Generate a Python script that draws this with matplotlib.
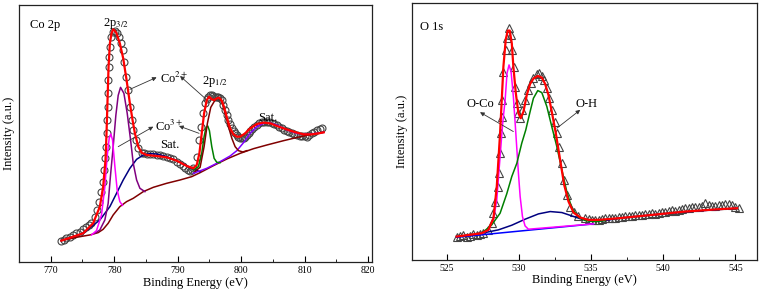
import matplotlib
matplotlib.use("Agg")
import matplotlib.pyplot as plt
from matplotlib.ticker import MultipleLocator, NullLocator

plt.rcParams['font.family'] = ['Liberation Serif', 'DejaVu Serif']
plt.rcParams['mathtext.fontset'] = 'stix'

# ---------------- Co 2p data ----------------
co_exp_E = [771.68, 772.10, 772.47, 773.00, 773.53, 774.05, 774.58, 775.10, 775.63, 776.05,
            776.42, 776.95, 777.32, 777.63, 777.89,
            778.16, 778.37, 778.53, 778.68, 778.79, 778.89, 778.95, 779.00, 779.05, 779.11,
            779.21, 779.32, 779.47, 779.74, 780.11, 780.47, 780.79, 781.05, 781.32, 781.53,
            781.84, 782.11, 782.47, 782.74, 783.00, 783.37, 783.79, 784.32, 784.70, 785.11,
            785.60, 786.16, 786.70, 787.21, 787.70, 788.26, 788.80, 789.32, 789.85, 790.37,
            790.80, 791.16, 791.60, 791.95, 792.20, 792.47, 793.00, 793.42, 793.68,
            793.95, 794.32, 794.60, 794.84, 795.10, 795.37, 795.63, 795.89, 796.15, 796.42,
            796.70, 796.95, 797.20, 797.47, 797.75, 798.00, 798.25, 798.53, 798.80,
            799.05, 799.30, 799.58, 799.85, 800.11, 800.40, 800.63, 800.90, 801.16, 801.40,
            801.68, 802.10, 802.47, 802.85, 803.26, 803.65, 804.05, 804.45, 804.84, 805.25,
            805.63, 806.00, 806.42, 806.80, 807.21, 807.60, 808.00, 808.40, 808.79, 809.20,
            809.58, 810.00, 810.37, 810.75, 811.16, 811.55, 811.95, 812.35, 812.74]
co_exp_I = [64, 67, 71, 76, 81, 86, 91, 98, 106, 112,
            118, 136, 156, 181, 211,
            241, 276, 311, 346, 386, 426, 466, 506, 546, 586,
            616, 646, 676, 689, 694, 688, 674, 656, 636, 601,
            556, 516, 466, 426, 396, 366, 341, 328, 326, 324,
            323, 323, 322, 321, 319, 316, 312, 308, 301, 294,
            287, 281, 276, 273, 275, 281, 316, 366, 406,
            446, 476, 488, 496, 500, 501, 499, 496, 495, 494,
            491, 486, 472, 456, 441, 426, 413, 401, 393,
            386, 380, 376, 372, 371, 372, 374, 380, 386, 392,
            398, 405, 411, 416, 420, 421, 421, 420, 418, 415,
            411, 406, 401, 397, 393, 389, 386, 383, 381, 379,
            378, 377, 376, 380, 386, 391, 396, 399, 401]

co_fit_E = [771.68, 775.11, 776.68, 777.74, 778.26, 778.63, 778.79, 778.95, 779.11, 779.32,
            779.58, 779.84, 780.11, 780.37, 780.89, 781.42, 781.95, 782.47, 782.89, 783.26,
            783.79, 784.32, 785.11, 786.68, 788.26, 789.84, 791.42, 792.47, 793.00, 793.42,
            793.79, 794.16, 794.58, 794.95, 795.37, 795.74, 796.16, 796.53, 796.95, 797.32,
            797.74, 798.26, 798.79, 799.32, 799.84, 800.63, 801.42, 802.47, 803.53, 804.58,
            805.63, 806.68, 807.74, 808.79, 809.84, 811.16, 812.21, 813.00]
co_fit_I = [64, 86, 116, 166, 226, 306, 386, 486, 586, 656,
            686, 698, 694, 686, 656, 611, 546, 476, 426, 386,
            346, 328, 321, 318, 314, 304, 288, 281, 291, 326,
            386, 446, 486, 496, 488, 486, 491, 493, 484, 464,
            434, 401, 383, 376, 376, 386, 401, 414, 418, 416,
            408, 401, 394, 388, 383, 383, 386, 389]

co_bg_E = [771.68, 774.05, 776.16, 777.47, 778.26, 779.05, 779.84, 780.89, 781.95, 783.00,
           784.58, 786.16, 788.26, 790.37, 792.21, 793.53, 795.63, 797.74, 799.84, 801.95,
           804.05, 806.68, 809.32, 811.95, 813.00]
co_bg_I = [64, 74, 81, 88, 98, 116, 141, 166, 181, 191,
           211, 224, 236, 246, 256, 268, 289, 309, 326, 340,
           351, 364, 376, 386, 389]

co_sat1_E = [771.68, 775.11, 777.74, 779.32, 780.37, 781.42, 782.47, 783.53, 784.58, 785.63,
             786.68, 788.26, 789.84, 791.42, 792.47, 793.53]
co_sat1_I = [64, 86, 126, 166, 206, 246, 281, 308, 321, 325,
             324, 316, 304, 289, 278, 271]

co2_32_E = [776.95, 777.74, 778.53, 779.05, 779.42, 779.84, 780.26, 780.63, 781.00, 781.53,
            782.05, 782.58, 783.00, 783.53, 784.05, 784.84]
co2_32_I = [86, 96, 126, 176, 260, 346, 440, 500, 524, 506,
            446, 366, 296, 246, 221, 211]

co3_32_E = [776.42, 777.21, 778.00, 778.53, 778.89, 779.21, 779.47, 779.74, 780.11, 780.47,
            780.89, 781.30]
co3_32_I = [81, 94, 141, 226, 316, 371, 384, 366, 286, 216,
            181, 170]

co3_12_E = [792.47, 793.26, 793.79, 794.16, 794.47, 794.74, 795.00, 795.37, 795.74, 796.16,
            796.68]
co3_12_I = [276, 286, 326, 376, 404, 408, 394, 346, 311, 299,
            298]

co2_12_E = [792.74, 793.53, 794.16, 794.68, 795.21, 795.89, 796.42, 796.95, 797.47, 798.00,
            798.53, 799.05, 799.58, 800.26, 800.89]
co2_12_I = [272, 284, 346, 416, 464, 486, 493, 481, 446, 406,
            371, 346, 334, 330, 334]

co_sat2_E = [792.47, 794.58, 796.68, 798.26, 799.32, 800.37, 801.42, 802.47, 803.53, 804.58,
             805.63, 807.21, 808.79, 810.37, 811.95, 813.00]
co_sat2_I = [266, 281, 301, 318, 334, 358, 386, 406, 416, 417,
             411, 396, 386, 383, 386, 389]

# ---------------- O 1s data ----------------
o_exp_E = [525.69, 525.92, 526.16, 526.39, 526.62, 526.85, 527.08, 527.31, 527.54, 527.89,
           528.12, 528.24, 528.35, 528.58,
           528.65, 528.70, 528.77, 528.82, 528.86, 528.93, 529.09, 529.21, 529.32, 529.46,
           529.55, 529.65, 529.74, 529.86, 529.97, 530.09, 530.25, 530.43, 530.62, 530.83,
           531.01, 531.24, 531.43, 531.59, 531.77, 531.94, 532.10, 532.28, 532.47, 532.63,
           532.79, 532.98, 533.16, 533.32, 533.55, 533.79, 534.13, 534.60, 534.83, 535.06,
           535.29, 535.52, 535.75, 535.98, 536.22, 536.45, 536.68, 536.91, 537.14, 537.37,
           537.60, 537.83, 538.06, 538.29, 538.52, 538.76, 538.99, 539.22, 539.45, 539.68,
           539.91, 540.14, 540.37, 540.61, 540.84, 541.07, 541.30, 541.53, 541.76, 541.99,
           542.22, 542.46, 542.69, 542.92, 543.15, 543.38, 543.61, 543.84, 544.07, 544.31,
           544.54, 544.77, 545.00, 545.23]
o_exp_I = [70, 72, 75, 70, 72, 78, 75, 77, 80, 90,
           110, 140, 175, 220,
           260, 320, 380, 430, 480, 565, 630, 665, 695, 675,
           630, 580, 520, 470, 440, 425, 450, 480, 510, 530,
           545, 558, 560, 552, 540, 515, 485, 450, 415, 380,
           340, 290, 240, 195, 160, 145, 132, 125, 122, 120,
           119, 120, 122, 125, 126, 125, 127, 130, 128, 132,
           131, 132, 134, 135, 136, 138, 139, 140, 138, 142,
           144, 145, 147, 150, 148, 150, 153, 155, 156, 158,
           159, 160, 163, 170, 166, 162, 163, 165, 166, 167,
           168, 165, 160, 155]

o_fit_E = [525.69, 527.43, 527.89, 528.24, 528.47, 528.70, 528.93, 529.09, 529.23, 529.37,
           529.51, 529.62, 529.79, 529.97, 530.13, 530.32, 530.55, 530.78, 531.01, 531.31,
           531.59, 531.82, 532.05, 532.28, 532.56, 532.86, 533.14, 533.44, 533.79, 534.25,
           534.83, 535.52, 536.91, 539.22, 541.53, 543.84, 545.12]
o_fit_I = [70, 80, 90, 125, 220, 380, 580, 660, 688, 688,
           650, 580, 500, 440, 425, 445, 495, 528, 544, 552,
           547, 528, 495, 445, 380, 300, 225, 175, 142, 127,
           120, 120, 125, 135, 145, 152, 155]

o_oh_E = [527.43, 528.12, 528.70, 529.16, 529.51, 529.86, 530.20, 530.48, 530.78, 531.01,
          531.31, 531.59, 531.94, 532.28, 532.63, 532.98, 533.32, 533.67, 534.13, 534.60,
          535.29, 535.98]
o_oh_I = [80, 105, 140, 198, 250, 290, 350, 390, 445, 485,
          508, 502, 460, 400, 340, 270, 205, 155, 128, 118,
          115, 118]

o_oco_E = [527.43, 527.89, 528.24, 528.47, 528.70, 528.88, 529.05, 529.18, 529.32, 529.46,
           529.62, 529.76, 529.88, 529.97, 530.09, 530.25, 530.43, 530.66, 535.17]
o_oco_I = [80, 90, 120, 180, 310, 410, 480, 560, 585, 565,
           490, 400, 320, 260, 190, 130, 102, 92, 108]

o_w_E = [525.69, 526.73, 527.66, 528.58, 529.51, 530.43, 531.36, 532.17, 532.98, 533.67,
         534.36, 535.06, 535.98, 536.91, 539.22, 541.53, 543.84, 545.12]
o_w_I = [70, 75, 82, 90, 104, 122, 138, 145, 142, 132,
         122, 116, 118, 125, 135, 144, 151, 155]

o_bg_E = [525.69, 535.17]
o_bg_I = [68, 108]

fig = plt.figure(figsize=(7.65, 2.97), dpi=100)
ax1 = fig.add_axes([0.0248, 0.118, 0.4614, 0.865])
ax2 = fig.add_axes([0.5386, 0.125, 0.451, 0.864])

mk_col = '#444444'
tfs = 9

# ---- left panel ----
ax1.plot(co_exp_E, co_exp_I, 'o', ms=5, mfc='none', mec=mk_col, mew=0.8, zorder=2)
ax1.plot(co_bg_E, co_bg_I, color='#800000', lw=1.1, zorder=3)
ax1.plot(co_sat1_E, co_sat1_I, color='#000080', lw=1.1, zorder=3)
ax1.plot(co_sat2_E, co_sat2_I, color='#8000ff', lw=1.1, zorder=3)
ax1.plot(co2_32_E, co2_32_I, color='#800080', lw=1.1, zorder=3)
ax1.plot(co3_32_E, co3_32_I, color='#ff00ff', lw=1.1, zorder=3)
ax1.plot(co3_12_E, co3_12_I, color='#008000', lw=1.1, zorder=3)
ax1.plot(co2_12_E, co2_12_I, color='#800000', lw=1.1, zorder=3)
ax1.plot(co_fit_E, co_fit_I, color='#ff0000', lw=1.6, zorder=4)
ax1.set_xlim(765, 820.6)
ax1.set_ylim(0, 771)

ax1.text(766.68, 711, 'Co 2p', fontsize=tfs, va='center', ha='left')
ax1.text(778.26, 716, '2p$_{3/2}$', fontsize=tfs, va='center', ha='left', zorder=1)
ax1.text(787.21, 551, 'Co$^{2+}$', fontsize=tfs, va='center', ha='left')
ax1.text(786.42, 408, 'Co$^{3+}$', fontsize=tfs, va='center', ha='left')
ax1.text(793.79, 543, '2p$_{1/2}$', fontsize=tfs, va='center', ha='left')
ax1.text(787.21, 351, 'Sat.', fontsize=tfs, va='center', ha='left')
ax1.text(802.74, 431, 'Sat.', fontsize=tfs, va='center', ha='left')

arrow = dict(arrowstyle='-|>', color='#333333', lw=0.6, mutation_scale=6, shrinkA=0, shrinkB=0)
ax1.annotate('', xy=(786.68, 554), xytext=(782.47, 518), arrowprops=arrow)
ax1.annotate('', xy=(790.37, 558), xytext=(794.32, 491), arrowprops=arrow)
ax1.annotate('', xy=(786.16, 406), xytext=(780.63, 346), arrowprops=arrow)
ax1.annotate('', xy=(790.21, 408), xytext=(793.37, 386), arrowprops=arrow)

# ---- right panel ----
ax2.plot(o_exp_E, o_exp_I, '^', ms=5.5, mfc='none', mec=mk_col, mew=0.8, zorder=2)
ax2.plot(o_bg_E, o_bg_I, color='#0000ff', lw=1.1, zorder=3)
ax2.plot(o_w_E, o_w_I, color='#000080', lw=1.1, zorder=3)
ax2.plot(o_oco_E, o_oco_I, color='#ff00ff', lw=1.1, zorder=3)
ax2.plot(o_oh_E, o_oh_I, color='#008000', lw=1.1, zorder=3)
ax2.plot(o_fit_E, o_fit_I, color='#ff0000', lw=1.6, zorder=4)
ax2.set_xlim(522.6, 546.5)
ax2.set_ylim(0, 770)

ax2.text(523.15, 700, 'O 1s', fontsize=tfs, va='center', ha='left')
ax2.text(526.39, 468, 'O-Co', fontsize=tfs, va='center', ha='left')
ax2.text(533.90, 468, 'O-H', fontsize=tfs, va='center', ha='left')
ax2.annotate('', xy=(527.31, 443), xytext=(529.62, 385), arrowprops=arrow)
ax2.annotate('', xy=(534.25, 450), xytext=(532.63, 395), arrowprops=arrow)

for ax, maj, mnr in ((ax1, 10, 5), (ax2, 5, 2.5)):
    ax.xaxis.set_major_locator(MultipleLocator(maj))
    ax.xaxis.set_minor_locator(MultipleLocator(mnr))
    ax.yaxis.set_major_locator(NullLocator())
    ax.tick_params(axis='x', which='major', direction='in', length=4, width=0.8,
                   labelsize=7, pad=3, top=False)
    ax.tick_params(axis='x', which='minor', direction='in', length=2, width=0.6, top=False)
    ax.set_xlabel('Binding Energy (eV)', fontsize=9, labelpad=1)
    ax.set_ylabel('Intensity (a.u.)', fontsize=9, labelpad=3)
    for s in ax.spines.values():
        s.set_linewidth(0.9)
        s.set_color('#222222')

fig.savefig('out.png', dpi=100)
